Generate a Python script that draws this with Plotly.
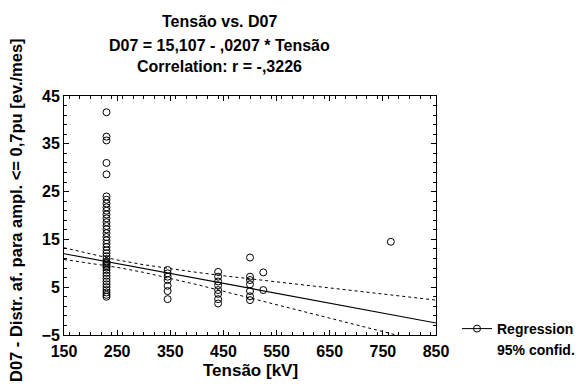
import plotly.graph_objects as go

# ---- data ----
tensao_230 = [230] * 40
d07_230 = [41.6, 36.5, 35.7, 31.0, 28.6, 24.0, 23.3, 22.5, 21.7, 21.0, 20.2,
           19.4, 18.6, 17.8, 17.1, 16.3, 15.5, 14.8, 14.1, 13.4, 12.7, 12.1,
           11.5, 10.9, 10.3, 9.7, 9.1, 8.6, 8.0, 7.4, 6.8, 6.2, 5.6, 5.0,
           4.4, 3.9, 3.4, 3.0, 10.0, 9.4]
tensao_345 = [345] * 7
d07_345 = [8.6, 7.9, 7.2, 6.5, 5.3, 4.2, 2.5]
tensao_440 = [440] * 8
d07_440 = [8.2, 7.2, 6.2, 5.4, 4.4, 3.6, 2.5, 1.6]
tensao_500 = [500] * 7
d07_500 = [11.2, 7.2, 6.5, 5.6, 4.2, 3.1, 2.3]
tensao_525 = [525, 525]
d07_525 = [8.1, 4.4]
tensao_765 = [765]
d07_765 = [14.5]

# regression: D07 = 15,107 - ,0207 * Tensão
intercept = 15.107
slope = -0.0207
reg_x = [150, 850]

# 95% confidence band
band_x = [150, 200, 250, 300, 350, 400, 450, 500, 550, 600, 650, 700, 750, 800, 850]
band_up = [13.25, 11.9, 10.7, 9.7, 8.85, 8.1, 7.4, 6.75, 6.1, 5.45, 4.8, 4.15, 3.5, 2.9, 2.3]
band_lo = [10.8, 10.05, 9.15, 8.1, 6.9, 5.55, 4.15, 2.75, 1.35, -0.05, -1.45, -2.85, -4.3, -5.7, -7.1]

x_ticks = [150, 250, 350, 450, 550, 650, 750, 850]
y_ticks = [-5, 5, 15, 25, 35, 45]

title_lines = ["Tensão vs. D07", "D07 = 15,107 - ,0207 * Tensão", "Correlation: r = -,3226"]
x_title = "Tensão [kV]"
y_title = "D07 - Distr. af. para ampl. <= 0,7pu [ev./mes]"

FONT = "Liberation Sans, Arial, sans-serif"
OFF = 8  # page body margin
W, H = 585 - OFF, 387 - OFF
L, R, T, B = 64 - OFF, 436 - OFF, 96 - OFF, 335 - OFF
PW, PH = R - L, B - T


def px_x(p):
    return (p - OFF - L) / PW


def px_y(p):
    return (B - (p - OFF)) / PH


xs = tensao_230 + tensao_345 + tensao_440 + tensao_500 + tensao_525 + tensao_765
ys = d07_230 + d07_345 + d07_440 + d07_500 + d07_525 + d07_765

fig = go.Figure()
fig.add_trace(go.Scatter(x=xs, y=ys, mode="markers", showlegend=False,
                         marker=dict(symbol="circle-open", size=7, color="black",
                                     line=dict(width=1, color="black"))))
fig.add_trace(go.Scatter(x=reg_x, y=[intercept + slope * v for v in reg_x], mode="lines",
                         showlegend=False, line=dict(color="black", width=1.2)))
fig.add_trace(go.Scatter(x=band_x, y=band_up, mode="lines", showlegend=False,
                         line=dict(color="black", width=1, dash="dot")))
fig.add_trace(go.Scatter(x=band_x, y=band_lo, mode="lines", showlegend=False,
                         line=dict(color="black", width=1, dash="dot")))
# legend entries
fig.add_trace(go.Scatter(x=[None], y=[None], mode="lines+markers", name="Regression",
                         line=dict(color="black", width=1),
                         marker=dict(symbol="circle-open", size=7, color="black")))
fig.add_trace(go.Scatter(x=[None], y=[None], mode="lines", name="95% confid.",
                         line=dict(color="rgba(0,0,0,0)", width=0)))

axis_common = dict(showline=True, linecolor="black", linewidth=1, mirror="ticks",
                   ticks="inside", ticklen=5, tickcolor="black", showgrid=False,
                   zeroline=False, automargin=False,
                   tickfont=dict(family=FONT, size=16, color="black", weight="bold"))

fig.update_xaxes(range=[150, 850], tickvals=x_ticks, ticklabelstandoff=2, **axis_common,
                 minor=dict(dtick=20, ticks="inside", ticklen=3, tickcolor="black", showgrid=False))
fig.update_yaxes(range=[-5, 45], tickvals=y_ticks, **axis_common,
                 minor=dict(dtick=2, tick0=-5, ticks="inside", ticklen=3, tickcolor="black", showgrid=False))

tfont = dict(family=FONT, size=16, color="black", weight="bold")
annotations = []
for t, yy in zip(title_lines, [21, 45, 66]):
    annotations.append(dict(text=t, xref="paper", yref="paper",
                            x=px_x(219), y=px_y(yy),
                            xanchor="center", yanchor="middle", showarrow=False, font=tfont))
annotations.append(dict(text=x_title, xref="paper", yref="paper", x=px_x(250), y=px_y(370),
                        xanchor="center", yanchor="middle", showarrow=False,
                        font=dict(family=FONT, size=17, color="black", weight="bold")))
annotations.append(dict(text=y_title, xref="paper", yref="paper", x=px_x(16), y=px_y(210),
                        xanchor="center", yanchor="middle", showarrow=False, textangle=-90,
                        font=dict(family=FONT, size=16.5, color="black", weight="bold")))

fig.update_layout(
    width=W, height=H,
    margin=dict(l=L, r=W - R, t=T, b=H - B, autoexpand=False),
    paper_bgcolor="white", plot_bgcolor="white",
    annotations=annotations,
    legend=dict(x=px_x(457), y=px_y(313), xanchor="left", yanchor="top",
                font=dict(family=FONT, size=14, color="black", weight="bold"),
                bgcolor="rgba(0,0,0,0)", itemwidth=30, tracegroupgap=0),
)

fig.write_html("out.html")
